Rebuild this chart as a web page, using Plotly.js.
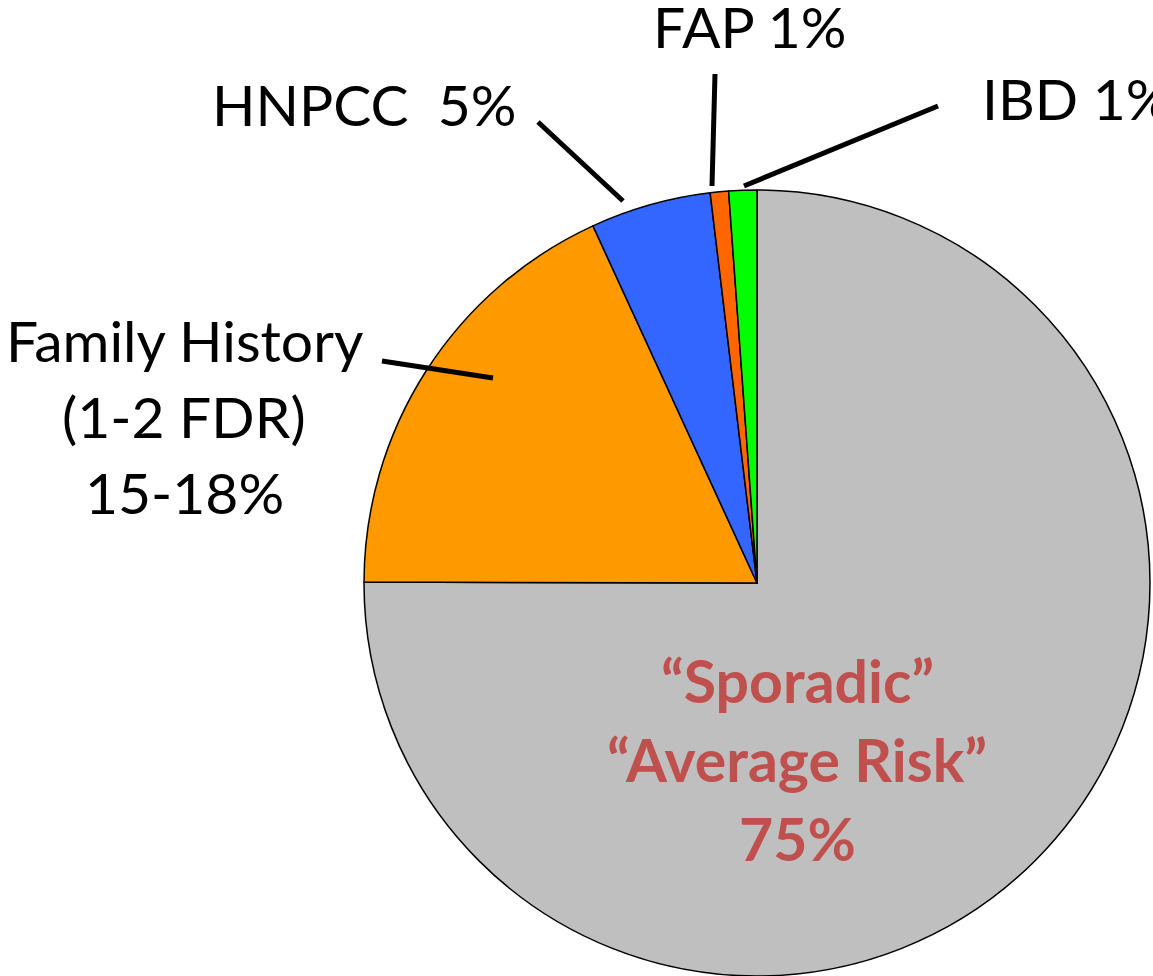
<!DOCTYPE html>
<html>
<head>
<meta charset="utf-8">
<script src="https://cdn.plot.ly/plotly-3.0.1.min.js"></script>
<style>
  html, body { margin: 0; padding: 0; background: #fff; }
  #chart { width: 1153px; height: 976px; }
</style>
</head>
<body>
<div id="chart"></div>
<script>
// slices, clockwise from 12 o'clock
const categories = ['Sporadic', 'Family History', 'HNPCC', 'FAP', 'IBD'];
const shares = [75, 18.1, 4.95, 0.75, 1.15];
const sliceColors = ['#BFBFBF', '#FF9900', '#3366FF', '#FF6600', '#00FF00'];

// label text
const familyLines = ['Family History', '(1-2 FDR)', '15-18%'];
const sporadicLines = ['\u201CSporadic\u201D', '\u201CAverage Risk\u201D', '75%'];
const hnpccLabel = 'HNPCC&nbsp; 5%';
const fapLabel = 'FAP 1%';
const ibdLabel = 'IBD 1%';

const W = 1153, H = 976;
const px = (x, y) => ({ x: x / W, y: 1 - y / H });
const FONT = 'Lato, "Liberation Sans", sans-serif';

function label(text, x, y, opts) {
  const p = px(x, y);
  return Object.assign({
    text: text, x: p.x, y: p.y, xref: 'paper', yref: 'paper',
    showarrow: false, xanchor: 'center', yanchor: 'middle',
    font: { family: FONT, size: 57, color: '#000' }
  }, opts || {});
}

function leader(x0, y0, x1, y1) {
  const a = px(x0, y0), b = px(x1, y1);
  return {
    type: 'line', xref: 'paper', yref: 'paper',
    x0: a.x, y0: a.y, x1: b.x, y1: b.y,
    line: { color: '#000', width: 5 }
  };
}

const annotations = [
  label(fapLabel, 750, 26),
  label(ibdLabel, 980, 98, { xanchor: 'left' }),
  label(hnpccLabel, 364, 104),
];
familyLines.forEach((t, i) => annotations.push(label(t, 184, 340 + i * 76)));
sporadicLines.forEach((t, i) => annotations.push(label('<b>' + t + '</b>', 797, 680 + i * 79,
  { font: { family: FONT, size: 59, color: '#C0504D' } })));

const shapes = [
  leader(538, 122, 623, 201),
  leader(715, 74, 712, 186),
  leader(938, 106, 744, 186),
  leader(382, 361, 493, 378)
];

const trace = {
  type: 'pie',
  labels: categories,
  values: shares,
  sort: false,
  direction: 'clockwise',
  rotation: 0,
  textinfo: 'none',
  hoverinfo: 'label+percent',
  marker: { colors: sliceColors, line: { color: '#000', width: 1.5 } },
  domain: { x: [364 / W, 1150 / W], y: [0, 786 / H] }
};

const layout = {
  width: W, height: H,
  margin: { l: 0, r: 0, t: 0, b: 0 },
  showlegend: false,
  paper_bgcolor: '#fff',
  annotations: annotations,
  shapes: shapes
};

Plotly.newPlot('chart', [trace], layout, { displayModeBar: false, staticPlot: true });
</script>
</body>
</html>
